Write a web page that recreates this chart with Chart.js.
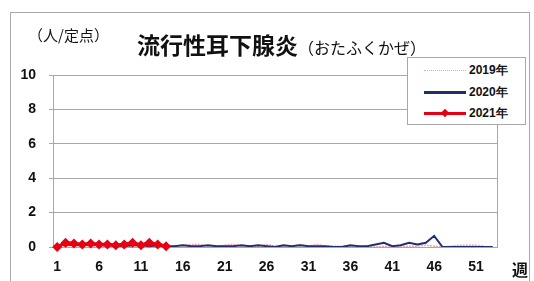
<!DOCTYPE html>
<html>
<head>
<meta charset="utf-8">
<script src="https://cdn.jsdelivr.net/npm/chart.js@4"></script>
<style>
  body { margin: 0; background: #fff; }
  #wrap { position: relative; width: 534px; height: 281px; overflow: hidden; }
  #frame { position: absolute; left: 10px; top: 12px; width: 520px; height: 280px; border: 1px solid #a8a8a8; box-sizing: border-box; }
  canvas { position: absolute; left: 0; top: 0; }
  .txt { position: absolute; font-family: "Noto Sans CJK JP", sans-serif; color: #111; white-space: nowrap; line-height: 1; }
  #unit { left: 28px; top: 27px; font-size: 15px; }
  #title { left: 137px; top: 33px; font-size: 23px; font-weight: 700; }
  #title span { font-size: 16px; font-weight: 400; }
  #week { left: 512px; top: 261px; font-size: 16px; font-weight: 700; }
  #legend { position: absolute; left: 407px; top: 57px; width: 119px; height: 68px; border: 1px solid #a8a8a8; background: #fff; box-sizing: border-box; }
  .row { position: absolute; left: 0; height: 14px; width: 119px; }
  .sample { position: absolute; left: 16px; width: 42px; top: 7px; }
  .lbl { position: absolute; left: 61px; top: 0; font-family: "Liberation Sans", Arial, sans-serif; font-size: 12px; font-weight: 700; color: #111; line-height: 14px; }
  .dia { position: absolute; left: 18px; top: -5px; width: 6px; height: 6px; transform: rotate(45deg); }
</style>
</head>
<body>
<div id="wrap">
  <div id="frame"></div>
  <canvas id="chart" width="534" height="281"></canvas>
  <div class="txt" id="unit">（人/定点）</div>
  <div class="txt" id="title">流行性耳下腺炎<span>（おたふくかぜ）</span></div>
  <div class="txt" id="week">週</div>
  <div id="legend"></div>
</div>
<script>
// ========================================
// Data
// ========================================
const weeks = ['1','2','3','4','5','6','7','8','9','10','11','12','13','14','15','16','17','18','19','20',
  '21','22','23','24','25','26','27','28','29','30','31','32','33','34','35','36','37','38','39','40',
  '41','42','43','44','45','46','47','48','49','50','51','52','53'];
const yTicks = [0, 2, 4, 6, 8, 10];
const seriesNames = ['2019年', '2020年', '2021年'];

const values2019 = [0.1,0.05,0.1,0.1,0.05,0.1,0.05,0.1,0.05,0.05,0.1,0.05,0.05,0.05,
  0.05,0.1,0.15,0.15,0.05,0.05,0.1,0.15,0.05,0.05,0.05,0.15,0.05,0.05,0.05,0.15,
  0.05,0.15,0.05,0.05,0.05,0.05,0,0.05,0,0.05,0.05,0,0.05,0.05,0.1,0.05,0,0.05,0.1,0.1,0.1,0.05];
const values2020 = [0.1,0.15,0.1,0.1,0.15,0.1,0.1,0.1,0.05,0.1,0.1,0.05,0.1,0.05,
  0.05,0.1,0.05,0.05,0.1,0.05,0.05,0.05,0.1,0.05,0.1,0.05,0,0.1,0.05,0.1,0.05,0.05,0.05,0,0,
  0.1,0.05,0.05,0.15,0.25,0.05,0.1,0.25,0.15,0.25,0.65,0,0,0,0,0,0,0];
const values2021 = [0.0,0.25,0.2,0.15,0.2,0.15,0.15,0.1,0.15,0.25,0.1,0.25,0.15,0.05];

// ========================================
// Styles
// ========================================
const COLOR_2019 = '#f2a3ad';
const COLOR_2020 = '#1f2f6e';
const COLOR_2021 = '#e60012';
const GRID = '#a8a8a8';
const AXIS_FONT = { family: '"Liberation Sans", Arial, sans-serif', size: 14, weight: 'bold' };

// ========================================
// Legend (HTML)
// ========================================
const legend = document.getElementById('legend');
const legendStyles = [
  { top: 5, line: `border-top: 1px dotted ${COLOR_2019};` },
  { top: 27, line: `border-top: 3px solid ${COLOR_2020}; margin-top:-1px;` },
  { top: 48, line: `border-top: 3px solid ${COLOR_2021}; margin-top:-1px;`, dia: true }
];
legend.innerHTML = seriesNames.map((name, i) => `
  <div class="row" style="top:${legendStyles[i].top}px">
    <div class="sample" style="${legendStyles[i].line}">
      ${legendStyles[i].dia ? `<div class="dia" style="background:${COLOR_2021}"></div>` : ''}
    </div>
    <div class="lbl">${name}</div>
  </div>
`).join('');

// ========================================
// Plot border plugin
// ========================================
const plotBorder = {
  id: 'plotBorder',
  beforeDatasetsDraw(chart) {
    const { ctx, chartArea: a } = chart;
    ctx.save();
    ctx.strokeStyle = GRID;
    ctx.lineWidth = 1;
    ctx.strokeRect(a.left + 0.5, a.top + 0.5, a.right - a.left, a.bottom - a.top);
    ctx.restore();
  }
};

// ========================================
// Chart
// ========================================
new Chart(document.getElementById('chart').getContext('2d'), {
  type: 'line',
  data: {
    labels: weeks,
    datasets: [
      {
        label: seriesNames[2], data: values2021, order: 0, clip: false,
        borderColor: COLOR_2021, backgroundColor: COLOR_2021, borderWidth: 3.5,
        pointStyle: 'rectRot', pointRadius: 5, pointBorderWidth: 0, tension: 0
      },
      {
        label: seriesNames[1], data: values2020, order: 1,
        borderColor: COLOR_2020, borderWidth: 2, pointRadius: 0, tension: 0
      },
      {
        label: seriesNames[0], data: values2019, order: 2,
        borderColor: COLOR_2019, borderWidth: 1.5, borderDash: [2, 1], pointRadius: 0, tension: 0
      }
    ]
  },
  options: {
    responsive: false,
    animation: false,
    layout: { padding: { left: 0, top: 75, right: 37, bottom: 0 } },
    plugins: { legend: { display: false }, tooltip: { enabled: false } },
    scales: {
      x: {
        offset: true,
        grid: { display: false },
        border: { display: false },
        afterFit: (s) => { s.height = 34; },
        ticks: {
          autoSkip: false, maxRotation: 0, padding: 4, color: '#111', font: AXIS_FONT,
          callback: (v, i) => (i % 5 === 0 ? weeks[i] : '')
        }
      },
      y: {
        min: yTicks[0], max: yTicks[yTicks.length - 1],
        afterFit: (s) => { s.width = 53; },
        afterBuildTicks: (s) => { s.ticks = yTicks.map(v => ({ value: v })); },
        grid: { color: GRID, tickLength: 4 },
        border: { display: false },
        ticks: { padding: 13, color: '#111', font: AXIS_FONT }
      }
    }
  },
  plugins: [plotBorder]
});
</script>
</body>
</html>
